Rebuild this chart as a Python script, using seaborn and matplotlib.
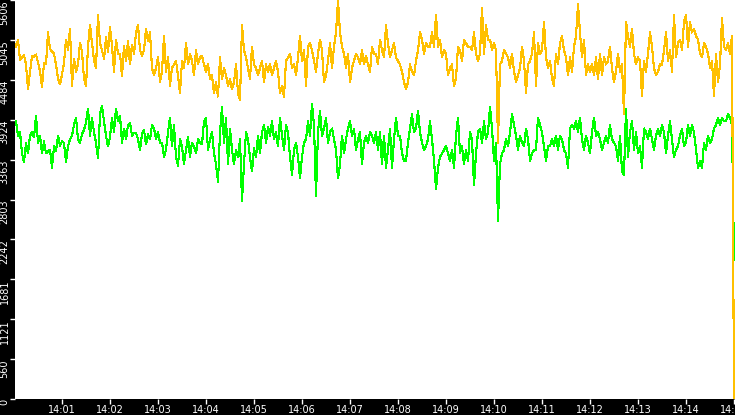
import numpy as np
import pandas as pd
import matplotlib
matplotlib.use("Agg")
import matplotlib.pyplot as plt
import matplotlib.dates as mdates
import seaborn as sns

# ---------------- data ----------------
start_time = "2024-01-01 14:00:00"
sample_step_ms = 2500
y_max = 5606

upper_values = [
    5000, 4950, 5050, 4760, 4800, 4830, 4700, 4350, 4600, 4820,
    4800, 4840, 4730, 4600, 4390, 4720, 4700, 5150, 4920, 4880,
    4850, 4700, 4500, 4420, 4560, 4720, 5050, 4900, 5200, 4400,
    4780, 4600, 4700, 5000, 4880, 4500, 4400, 4950, 5260, 5000,
    4760, 4650, 5400, 5000, 4900, 4780, 5080, 4880, 5220, 4960,
    4600, 5050, 4850, 4850, 4540, 4960, 4750, 5030, 4700, 4980,
    4850,
    5150, 5250, 4900, 4820, 4900, 5200, 5030, 5150, 4650, 4550,
    4650, 4800, 4450, 4600, 5100, 4600, 4800, 4400, 4650, 4700,
    4750, 4550, 4300, 4750, 4650, 5000, 4700, 4850, 4750, 4550,
    4900, 4700, 4800, 4820, 4700, 4600, 4700, 4500, 4550, 4300,
    4450, 4250, 4800, 4500, 4650, 4550, 4400, 4500, 4350, 4450,
    4700, 4300, 4200, 5250, 4900, 4800, 4650, 4500, 4950, 4700,
    4650, 4550, 4650, 4750, 4450, 4700, 4600, 4700, 4550, 4650,
    4750, 4600, 4300, 4400, 4250, 4750, 4800, 4850, 4650, 4700,
    4550, 4800, 5100, 4750, 4900, 4400, 4950, 5000, 4900, 4750,
    4600, 4850, 5050, 4900, 4450, 4550, 4750, 5000, 4650, 4950,
    5150, 5600, 5150, 4950, 4850, 4650, 4850, 4450, 4650, 4750,
    4850, 4800, 4700, 4900, 4700, 4820, 4700, 4600, 4950, 4850,
    4850, 4700, 5050, 4900, 4800, 5250, 5000, 4800, 4900, 5000,
    4800, 4750, 4700, 4600, 4450, 4350, 4450, 4700, 4600, 4550,
    4750, 4900, 5150, 5050, 4850, 5000, 4950, 4950, 5150, 4950,
    5400, 4950, 5050, 4800, 4900, 4850, 4550, 4650, 4700, 4400,
    4500, 4950, 4900, 4750, 5050, 5000, 4950, 4950, 4900, 5150,
    4850, 4750, 4850, 5500, 4850, 5250, 5050, 5050, 4900, 5000,
    4900, 3600, 4700, 4750, 4900, 4850, 4800, 4650, 4850, 4600,
    4450, 4550, 4650, 4950, 4750, 4300, 4700, 4750, 4850, 5150,
    4400, 5000, 4850, 4900, 5300, 4800, 4650, 4750, 4500, 4400,
    4850, 4700, 5000, 5100, 4900, 4800, 4550, 4800, 4600, 4950,
    5100, 5550, 5150, 4800, 5050, 4550, 4700, 4600, 4700, 4550,
    4800, 4500, 4850, 4550, 4800, 4700, 4750, 4950, 4650, 4450,
    4600, 4850, 4600, 4700, 4000, 5300, 5100, 4950, 5200, 4850,
    4700, 4800, 4750, 4250, 4750, 4600, 4850, 5150, 4950, 4650,
    4550, 4600, 4700, 4700, 4900, 5150, 4750, 4900, 4600, 5400,
    4800, 5000, 5050, 4900, 5300, 5400, 4950, 5300, 5150, 5200,
    5100, 5050, 4850, 4800, 5000, 4950, 4850, 4650, 4750, 4250,
    4850, 4450, 4700, 5350, 4950, 4900, 5000, 4850, 5100,
    0,
]

lower_values = [
    3850, 3900, 3700, 3750, 3450, 3330, 3600, 3450, 3700, 3750,
    3680, 3980, 3600, 3700, 3450, 3620, 3450, 3480, 3500, 3250,
    3550, 3480, 3700, 3560, 3620, 3600, 3330, 3550, 3650, 3700,
    3850, 3950, 3650, 3600, 3720, 3780, 3880, 4080, 3700, 3950,
    3750, 3600, 3380, 4000, 4120, 3900, 3700, 3550, 3680, 3950,
    3750, 4080, 3900, 3980, 3600, 3800, 3650, 3850, 3880, 3700,
    3740,
    3740, 3650, 3500, 3720, 3780, 3580, 3720, 3650, 3850, 3800,
    3650, 3750, 3600, 3600, 3400, 3500, 3750, 3950, 3550, 3850,
    3400, 3280, 3650, 3550, 3300, 3500, 3680, 3400, 3600, 3550,
    3450, 3650, 3600, 3580, 3900, 3950, 3500, 3650, 3750, 3450,
    3300, 3050, 3750, 4100, 3600, 3950, 3300, 3800, 3500, 3300,
    3500, 3400, 3650, 2780, 3300, 3750, 3650, 3400, 3200, 3520,
    3400, 3700, 3450, 3750, 3850, 3600, 3820, 3700, 3900, 3650,
    3750, 3550, 3950, 3700, 3500, 3850, 3750, 3400, 3150, 3500,
    3600, 3400, 3100, 3400, 3600, 3650, 3900, 3700, 4150, 3850,
    2850, 3750, 4050, 3700, 3800, 3950, 3600, 3750, 3800, 3650,
    3500, 3100, 3300, 3700, 3450, 3650, 3800, 3900, 3700, 3800,
    3500, 3650, 3750, 3300, 3600, 3700, 3600, 3750, 3700, 3600,
    3750, 3500, 3750, 3300, 3700, 3250, 3500, 3800, 3250, 3650,
    3950, 3700, 3700, 3450, 3350, 3350, 3600, 3800, 4000, 3750,
    3800, 4050, 3750, 3600, 3500, 3550, 3650, 3900, 3650, 3350,
    2950, 3250, 3400, 3450, 3500, 3550, 3450, 3350, 3500, 3250,
    3700, 3950, 3450, 3550, 3300, 3500, 3350, 3750, 3650, 3000,
    3450, 3750, 3800, 3600, 3900, 3650, 3750, 4100, 3800, 3350,
    3600, 2500, 3300, 3450, 3500, 3650, 3550, 3750, 4000, 3850,
    3700, 3500, 3700, 3600, 3550, 3800, 3650, 3350, 3450, 3500,
    3500, 3950, 3850, 3750, 3550, 3350, 3550, 3550, 3650, 3550,
    3700, 3500, 3700, 3650, 3500, 3450, 3250, 3800, 3850, 3800,
    3900, 3750, 3950, 3650, 3500, 3700, 3600, 3450, 3750, 3950,
    3700, 3750, 3650, 3500, 3600, 3700, 3600, 3850, 3650, 3600,
    3550, 3350, 3700, 3200, 3150, 4080, 3400, 3750, 3900, 3500,
    3750, 3450, 3550, 3250, 3800, 3750, 3650, 3800, 3650, 3500,
    3700, 3800, 3700, 3850, 3750, 3450, 3700, 3900, 3650, 3400,
    3500, 3550, 3700, 3800, 3550, 3600, 3850, 3700, 3850, 3750,
    3500, 3250, 3350, 3250, 3600, 3500, 3700, 3600, 3650, 3800,
    3850, 3950, 3850, 3950, 3900, 3900, 4000, 3950, 3850,
    1950,
]

series_names = ["lower", "upper"]
series_colors = {"lower": "#00ff00", "upper": "#ffc000"}

# ---------------- build table ----------------
n = len(upper_values)
times = pd.date_range(start_time, periods=n, freq=f"{sample_step_ms}ms")
df = pd.DataFrame({
    "time": list(times) + list(times),
    "value": lower_values + upper_values,
    "series": ["lower"] * n + ["upper"] * n,
})

sns.set_theme(style="white")
plt.rcParams["font.family"] = ["DejaVu Sans"]

W, H = 735, 415
fig = plt.figure(figsize=(W / 100, H / 100), dpi=100, facecolor="black")
ax = fig.add_axes([15 / W, 16 / H, 720 / W, 399 / H])
ax.set_facecolor("white")

sns.lineplot(
    data=df, x="time", y="value", hue="series", hue_order=series_names,
    palette=series_colors, legend=False, estimator=None, errorbar=None,
    linewidth=0.8, antialiased=False, ax=ax,
)

t0 = pd.Timestamp(start_time)
ax.set_xlim(t0 + pd.Timedelta(seconds=1.25), t0 + pd.Timedelta(seconds=901.25))
ax.set_ylim(0, y_max)

ax.xaxis.set_major_locator(mdates.MinuteLocator())
ax.xaxis.set_major_formatter(mdates.DateFormatter("%H:%M"))
yt = np.linspace(0, y_max, 11)
ax.set_yticks(yt)
ax.set_yticklabels([str(int(v + 1e-6)) for v in yt])

for s in ax.spines.values():
    s.set_visible(False)
ax.grid(False)
ax.set_xlabel("")
ax.set_ylabel("")

ax.tick_params(axis="both", colors="white", length=3.6, width=1,
               labelsize=7, direction="out", left=True, bottom=True)
ax.tick_params(axis="y", pad=0.3)
ax.tick_params(axis="x", pad=0.8)
plt.setp(ax.get_yticklabels(), rotation=90, va="top")

fig.savefig("out.png", dpi=100, facecolor="black")
